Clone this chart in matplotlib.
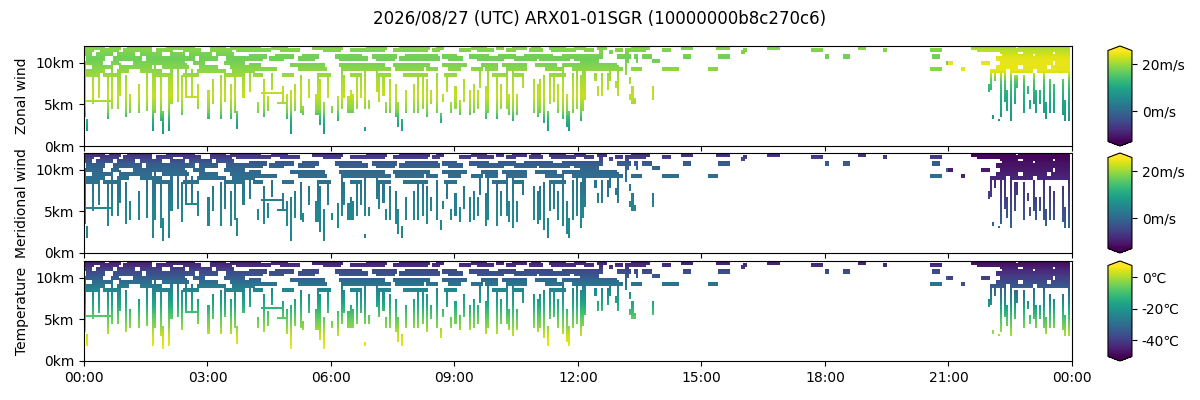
import numpy as np
import matplotlib
matplotlib.use("Agg")
import matplotlib.pyplot as plt
from matplotlib.ticker import FuncFormatter

# grid: 3-minute bins in time, 250 m bins in altitude
DT = 0.05
DZ = 0.25

# vertical tracks (hour, bottom km, top km)
streaks_00_04 = [
    (0.04, 3.6, 9.9), (0.08, 1.95, 3.0), (0.24, 5.2, 8.25), (0.36, 5.8, 9.1),
    (0.57, 3.4, 8.25), (0.65, 4.6, 9.5), (0.81, 4.6, 8.7), (0.89, 6.2, 9.9),
    (1.01, 3.6, 8.25), (1.13, 4.2, 6.2), (1.34, 4.2, 7.4), (1.5, 4.4, 9.1),
    (1.66, 1.95, 8.7), (1.74, 4.2, 9.9), (1.9, 3.2, 8.7), (1.94, 1.7, 4.2),
    (2.06, 1.95, 8.7), (2.15, 5.0, 9.1), (2.27, 5.4, 9.9), (2.39, 3.8, 8.25),
    (2.47, 5.8, 9.9), (2.6, 6.2, 9.1), (2.8, 4.6, 7.4), (3.0, 3.4, 6.6),
    (3.12, 5.0, 7.85), (3.32, 3.4, 8.25), (3.44, 5.4, 8.7), (3.56, 3.4, 7.4),
    (3.68, 4.2, 9.9), (3.74, 2.2, 4.2), (3.89, 5.8, 9.5), (4.05, 6.6, 9.9),
]
streaks_04_08 = [
    (4.23, 4.0, 5.0), (4.39, 3.6, 7.85), (4.48, 4.4, 5.8), (4.56, 6.9, 8.7),
    (4.84, 5.2, 7.0), (4.92, 3.4, 6.2), (5.0, 1.7, 6.6), (5.12, 4.4, 7.4),
    (5.29, 4.2, 8.25), (5.33, 3.8, 4.6), (5.45, 5.8, 7.85), (5.62, 3.8, 6.2),
    (5.65, 3.8, 8.25), (5.69, 3.8, 6.2), (5.73, 2.6, 7.85), (5.81, 1.7, 5.0),
    (5.93, 5.8, 8.7), (6.05, 4.0, 4.6), (6.18, 3.2, 5.8), (6.26, 4.6, 9.1),
    (6.34, 5.8, 8.25), (6.42, 4.0, 5.8), (6.46, 4.0, 6.6), (6.54, 4.2, 6.2),
    (6.62, 4.6, 8.7), (6.74, 5.8, 8.25), (6.82, 4.6, 9.1), (6.82, 1.95, 2.1),
    (6.94, 4.6, 5.4), (7.11, 6.6, 9.9), (7.19, 5.4, 8.7), (7.27, 6.2, 8.25),
    (7.35, 4.0, 5.0), (7.43, 4.2, 7.85), (7.55, 3.6, 7.4), (7.63, 2.4, 5.0),
    (7.71, 1.95, 3.0), (7.84, 4.2, 6.6), (8.0, 4.0, 7.4), (8.12, 5.4, 7.0),
]
streaks_08_12 = [
    (8.14, 4.2, 8.7), (8.22, 4.6, 8.25), (8.34, 3.6, 7.85), (8.42, 5.0, 6.6),
    (8.55, 4.2, 8.7), (8.67, 2.8, 3.8), (8.71, 5.4, 6.2), (8.83, 6.6, 8.25),
    (8.95, 4.0, 5.0), (9.03, 4.6, 7.0), (9.11, 3.8, 5.4), (9.23, 5.4, 7.85),
    (9.36, 3.8, 6.6), (9.48, 4.2, 7.4), (9.56, 4.6, 6.6), (9.64, 7.0, 9.1),
    (9.76, 3.4, 7.0), (9.84, 4.2, 9.1), (10.0, 3.4, 8.25), (10.12, 4.6, 7.4),
    (10.25, 4.6, 9.1), (10.33, 3.8, 6.2), (10.45, 3.2, 9.1), (10.53, 3.8, 6.2),
    (10.65, 7.0, 8.7), (10.69, 7.4, 8.7), (10.93, 4.2, 7.85), (11.02, 3.6, 7.4),
    (11.1, 4.2, 7.85), (11.18, 2.8, 8.25), (11.28, 1.85, 4.2), (11.34, 5.0, 8.7),
    (11.42, 5.4, 8.25), (11.54, 4.2, 7.4), (11.62, 3.4, 9.5), (11.74, 2.4, 6.2),
    (11.78, 1.85, 4.2), (11.87, 4.2, 8.7), (11.99, 4.6, 9.1), (12.07, 3.0, 8.25),
    (12.15, 5.8, 9.5),
]
streaks_12_14 = [
    (12.12, 4.4, 10.3), (12.16, 5.6, 7.4), (12.42, 7.85, 8.7), (12.46, 6.2, 7.0),
    (12.55, 6.2, 8.7), (12.71, 6.8, 8.7), (12.75, 7.85, 9.5), (12.95, 7.0, 7.6),
    (12.99, 6.2, 9.5), (13.19, 8.5, 10.3), (13.27, 7.6, 8.0), (13.31, 5.0, 7.0),
    (13.25, 5.6, 6.2), (13.35, 5.0, 5.6), (13.8, 5.6, 7.0), (13.84, 6.6, 7.0),
]
streaks_22_24 = [
    (21.96, 6.6, 7.4), (22.04, 6.9, 8.7), (22.13, 7.85, 9.1), (22.29, 3.6, 9.1),
    (22.37, 5.4, 9.1), (22.41, 4.4, 6.6), (22.53, 3.2, 8.7), (22.61, 5.0, 8.25),
    (22.69, 7.0, 8.25), (22.81, 4.2, 8.25), (22.94, 6.4, 7.0), (22.98, 4.6, 5.4),
    (23.06, 5.2, 8.7), (23.14, 4.2, 6.6), (23.22, 5.0, 6.6), (23.34, 4.2, 8.7),
    (23.38, 3.4, 5.0), (23.46, 4.0, 7.85), (23.58, 4.2, 7.4), (23.75, 3.8, 7.85),
    (23.83, 3.2, 5.4), (23.91, 3.0, 8.7), (22.09, 3.4, 3.6), (22.23, 3.0, 3.1),
]

# level flight segments (km, start hour, end hour), two cells thick
dashes_00_04 = [
    (11.85, 0.04, 0.49), (11.85, 0.61, 0.89), (11.85, 1.05, 1.62), (11.85, 2.02, 2.67),
    (11.85, 3.08, 3.4), (11.85, 3.56, 4.05),
    (11.5, 0.0, 0.24), (11.5, 0.4, 0.81), (11.5, 0.97, 1.62), (11.5, 1.78, 2.11),
    (11.5, 2.43, 2.83), (11.5, 3.08, 3.56), (11.5, 3.72, 4.13),
    (11.1, 0.0, 0.16), (11.1, 0.32, 0.65), (11.1, 0.81, 1.21), (11.1, 1.38, 1.86),
    (11.1, 2.11, 2.43), (11.1, 2.59, 3.08), (11.1, 3.24, 3.64),
    (10.6, 0.08, 0.49), (10.6, 0.73, 1.38), (10.6, 1.54, 2.67), (10.6, 2.83, 3.24),
    (10.6, 3.48, 4.13),
    (10.1, 0.0, 0.4), (10.1, 0.65, 0.81), (10.1, 1.21, 2.43), (10.1, 2.67, 2.91),
    (10.1, 3.4, 3.89),
    (9.7, 0.24, 0.65), (9.7, 0.89, 1.62), (9.7, 1.94, 2.51), (9.7, 2.83, 3.24),
    (9.7, 3.56, 4.05),
    (9.1, 0.08, 0.49), (9.1, 0.81, 1.05), (9.1, 1.38, 1.86), (9.1, 2.75, 3.4),
    (9.1, 3.64, 4.13),
    (8.5, 0.0, 0.32), (8.5, 0.49, 0.81), (8.5, 1.78, 2.11), (8.5, 2.43, 2.75),
    (8.5, 3.4, 3.81),
]
dashes_04_08 = [
    (11.85, 4.03, 4.27), (11.85, 4.6, 4.92), (11.85, 5.57, 6.3), (11.85, 6.86, 7.35),
    (11.85, 7.67, 8.16),
    (11.5, 4.03, 4.52), (11.5, 4.76, 5.24), (11.5, 5.81, 6.22), (11.5, 6.46, 7.27),
    (11.5, 7.51, 8.16),
    (10.9, 4.03, 4.43), (10.9, 4.68, 5.08), (10.9, 5.33, 5.65), (10.9, 6.14, 6.7),
    (10.9, 7.03, 7.59), (10.9, 7.84, 8.16),
    (10.5, 4.03, 4.35), (10.5, 4.52, 4.84), (10.5, 5.24, 5.57), (10.5, 6.22, 6.86),
    (10.5, 7.11, 7.51), (10.5, 7.67, 8.16),
    (9.9, 4.03, 4.27), (9.9, 5.0, 5.81), (9.9, 6.22, 6.7), (9.9, 6.78, 7.27),
    (9.9, 7.51, 8.16),
    (9.3, 4.03, 4.68), (9.3, 5.24, 5.89), (9.3, 6.3, 6.86), (9.3, 6.94, 7.43),
    (9.3, 7.59, 8.08),
    (8.7, 4.11, 4.35), (8.7, 4.84, 5.08), (8.7, 5.65, 5.97), (8.7, 6.46, 6.7),
    (8.7, 7.19, 7.43), (8.7, 7.75, 8.08),
]
dashes_08_12 = [
    (11.85, 8.06, 8.38), (11.85, 8.55, 8.71), (11.85, 9.44, 9.76), (11.85, 10.0, 10.17),
    (11.85, 10.41, 10.73), (11.85, 10.89, 11.06), (11.85, 11.3, 11.7), (11.85, 11.95, 12.19),
    (11.5, 8.06, 8.3), (11.5, 8.46, 8.63), (11.5, 9.11, 9.36), (11.5, 9.6, 9.92),
    (11.5, 10.25, 10.49), (11.5, 10.81, 11.14), (11.5, 11.38, 11.95),
    (10.9, 8.14, 8.55), (10.9, 8.71, 9.03), (10.9, 9.36, 9.84), (10.9, 10.08, 10.49),
    (10.9, 10.73, 11.38), (10.9, 11.62, 12.19),
    (10.5, 8.22, 8.63), (10.5, 8.87, 9.19), (10.5, 9.6, 10.17), (10.5, 10.49, 10.97),
    (10.5, 11.06, 11.78), (10.5, 11.95, 12.19),
    (9.9, 8.06, 8.38), (9.9, 8.71, 9.28), (9.9, 9.68, 10.0), (9.9, 10.17, 10.73),
    (9.9, 10.97, 11.46), (9.9, 11.62, 12.03),
    (9.3, 8.06, 8.22), (9.3, 8.3, 8.55), (9.3, 8.87, 9.11), (9.3, 9.44, 9.68),
    (9.3, 9.76, 10.0), (9.3, 10.25, 10.73), (9.3, 11.22, 11.62), (9.3, 11.87, 12.11),
    (8.7, 8.06, 8.3), (8.7, 8.79, 9.03), (8.7, 9.92, 10.25), (8.7, 10.49, 10.65),
    (8.7, 11.3, 11.7),
]
dashes_12_21 = [
    (11.9, 12.46, 12.67), (11.9, 13.31, 13.72), (11.9, 14.52, 14.77), (11.9, 15.37, 15.67),
    (11.9, 16.65, 16.88), (11.9, 18.83, 18.97),
    (11.7, 12.18, 12.38), (11.7, 12.91, 13.07), (11.7, 13.15, 13.6), (11.7, 14.08, 14.23),
    (11.5, 16.02, 16.07), (11.5, 17.69, 17.93), (11.5, 19.42, 19.47),
    (11.7, 20.58, 20.8),
    (11.3, 12.5, 12.59), (11.3, 12.75, 12.83), (11.3, 13.15, 13.23), (11.3, 15.97, 16.02),
    (10.8, 12.1, 12.59), (10.8, 12.99, 13.27), (10.8, 13.35, 13.44), (10.8, 13.56, 13.76),
    (10.8, 14.57, 14.72), (10.8, 15.42, 15.67), (10.8, 18.01, 18.06), (10.8, 18.49, 18.59),
    (10.8, 20.63, 20.75),
    (10.3, 12.1, 12.18), (10.3, 12.22, 12.46), (10.3, 13.15, 13.23), (10.3, 13.4, 13.44),
    (10.3, 13.8, 13.96),
    (10.0, 20.99, 21.09),
    (9.8, 12.1, 12.91),
    (9.3, 12.1, 13.07), (9.3, 13.31, 13.52), (9.3, 14.08, 14.4), (9.3, 15.18, 15.38),
    (9.3, 20.58, 20.8), (9.3, 21.3, 21.36),
]
dashes_22_24 = [
    (11.9, 21.56, 22.65), (11.9, 22.73, 23.95),
    (11.6, 21.72, 22.3), (11.6, 22.4, 23.95),
    (11.3, 22.25, 22.7), (11.3, 22.8, 23.5), (11.3, 23.6, 23.95),
    (10.9, 22.3, 23.0), (10.9, 23.1, 23.95),
    (10.5, 22.2, 22.6), (10.5, 22.7, 23.3), (10.5, 23.4, 23.95),
    (10.1, 21.8, 21.96), (10.1, 22.25, 22.8), (10.1, 22.9, 23.5), (10.1, 23.6, 23.95),
    (9.6, 22.2, 22.7), (9.6, 22.8, 23.4), (9.6, 23.5, 23.95),
    (9.2, 22.0, 22.4), (9.2, 22.5, 23.0), (9.2, 23.2, 23.95),
]
low_dashes = [(5.3, 0.02, 0.63), (5.8, 2.5, 2.7), (6.4, 4.35, 4.76), (5.0, 4.72, 4.92)]

# colour, by altitude (day traffic / late-evening traffic)
profile_km = [1.5, 3.0, 4.5, 6.0, 7.5, 9.0, 10.5, 12.0]
zonal_day = [7, 11, 19, 22, 21, 19, 17, 19]
zonal_night = [5, 7, 9, 11, 14, 24, 24, 20]
meridional_day = [4, 5, 5, 4, 2, 1, -1, -9]
meridional_night = [0, -1, -3, -5, -7, -9, -11, -13]
temp_day = [6, 3, -4, -11, -19, -27, -36, -47]
temp_night = [4, 1, -6, -14, -25, -35, -42, -50]

wind_range = (-13, 25.5)
temp_range = (-50.5, 7.5)

n_t = int(round(24 / DT))
n_z = int(round(12 / DZ))
occupied = np.zeros((n_z, n_t), dtype=bool)


def col_of(h):
    return min(int(h / DT), n_t - 1)


def row_of(km):
    return min(int(km / DZ), n_z - 1)


for group in [streaks_00_04, streaks_04_08, streaks_08_12, streaks_12_14, streaks_22_24]:
    for h, bottom, top in group:
        occupied[row_of(bottom):row_of(top) + 1, col_of(h)] = True

for group in [dashes_00_04, dashes_04_08, dashes_08_12, dashes_12_21, dashes_22_24]:
    for km, h0, h1 in group:
        occupied[row_of(km - DZ):row_of(km) + 1, col_of(h0):col_of(h1) + 1] = True

for km, h0, h1 in low_dashes:
    occupied[row_of(km), col_of(h0):col_of(h1) + 1] = True

t_edges = np.arange(n_t + 1) * DT
z_edges = np.arange(n_z + 1) * DZ
z_mid = (z_edges[:-1] + z_edges[1:]) / 2
night = (t_edges[:-1] + DT / 2) >= 21.0


def build_field(day_prof, night_prof):
    day_col = np.interp(z_mid, profile_km, day_prof)
    night_col = np.interp(z_mid, profile_km, night_prof)
    field = np.where(night[None, :], night_col[:, None], day_col[:, None])
    return np.ma.masked_where(~occupied, field)


panels = [
    ("Zonal wind", build_field(zonal_day, zonal_night), wind_range, [0, 20], "m/s"),
    ("Meridional wind", build_field(meridional_day, meridional_night), wind_range, [0, 20], "m/s"),
    ("Temperature", build_field(temp_day, temp_night), temp_range, [-40, -20, 0], "\u2103"),
]

fig = plt.figure(figsize=(12, 4), dpi=100)
fig.suptitle("2026/08/27 (UTC) ARX01-01SGR (10000000b8c270c6)", y=0.975, fontsize=12)

bottoms = [0.635, 0.3675, 0.0975]
hour_ticks = list(range(0, 25, 3))
hour_labels = ["%02d:00" % (h % 24) for h in hour_ticks]

for i, (label, field, (vmin, vmax), cticks, unit) in enumerate(panels):
    ax = fig.add_axes([0.07, bottoms[i], 0.8233, 0.25])
    mesh = ax.pcolormesh(t_edges, z_edges, field, cmap="viridis", vmin=vmin, vmax=vmax)
    ax.set_xlim(0, 24)
    ax.set_ylim(0, 12)
    ax.set_yticks([0, 5, 10])
    ax.yaxis.set_major_formatter(FuncFormatter(lambda v, p: "%dkm" % v))
    ax.set_xticks(hour_ticks)
    if i == 2:
        ax.set_xticklabels(hour_labels)
    else:
        ax.set_xticklabels([])
    ax.set_ylabel(label)

    cax = fig.add_axes([0.9233, bottoms[i], 0.02, 0.25])
    cb = fig.colorbar(mesh, cax=cax, extend="both")
    cb.set_ticks(cticks)
    cb.ax.yaxis.set_major_formatter(FuncFormatter(lambda v, p, u=unit: "%d%s" % (v, u)))

fig.savefig("out.png", dpi=100)
